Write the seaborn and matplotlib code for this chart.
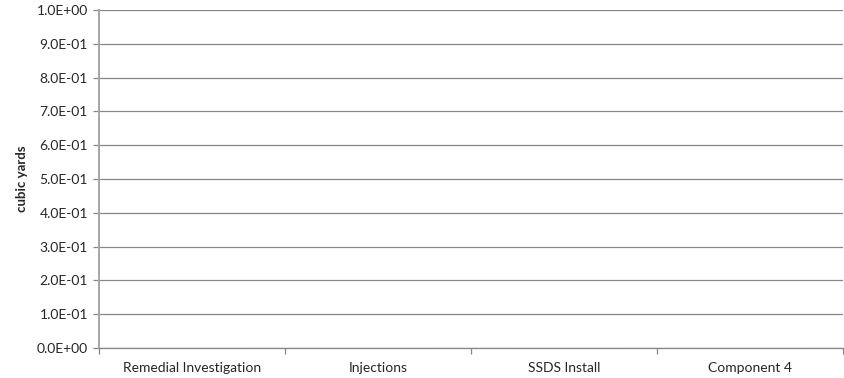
import matplotlib
matplotlib.use("Agg")
import matplotlib.pyplot as plt
import matplotlib.ticker as mticker
import seaborn as sns
import pandas as pd

categories = ["Remedial Investigation", "Injections", "SSDS Install", "Component 4"]
volumes = [0.0, 0.0, 0.0, 0.0]
y_ticks = [0.0, 0.1, 0.2, 0.3, 0.4, 0.5, 0.6, 0.7, 0.8, 0.9, 1.0]

sns.set_theme(style="white")
plt.rcParams["font.family"] = ["Lato", "DejaVu Sans"]

df = pd.DataFrame({"category": categories, "volume": volumes})

fig = plt.figure(figsize=(8.45, 3.78), dpi=100)
ax = fig.add_axes([99 / 845, 30 / 378, 744 / 845, 338 / 378])

sns.barplot(data=df, x="category", y="volume", color="#4F81BD", ax=ax, width=0.6)

ax.set_xlim(-0.5, len(categories) - 0.5)
ax.set_ylim(0, 1.0)
ax.set_yticks(y_ticks)
ax.yaxis.set_major_formatter(mticker.FuncFormatter(lambda v, _: f"{v:.1E}"))
ax.set_xticks(range(len(categories)))
ax.set_xticklabels(categories)
ax.set_xticks([i - 0.5 for i in range(len(categories) + 1)], minor=True)

grid_color = "#868686"
ax.grid(axis="y", color=grid_color, linewidth=0.9)
ax.set_axisbelow(True)

for side in ["top", "right"]:
    ax.spines[side].set_visible(False)
ax.spines["left"].set_color("#A6A6A6")
ax.spines["left"].set_linewidth(1.4)
ax.spines["bottom"].set_color(grid_color)
ax.spines["bottom"].set_linewidth(0.9)

label_color = "#262626"
ax.tick_params(axis="y", which="major", left=True, length=4, width=0.9,
               color=grid_color, labelsize=10, labelcolor=label_color, pad=4)
ax.tick_params(axis="x", which="major", bottom=False, labelsize=10,
               labelcolor=label_color, pad=4)
ax.tick_params(axis="x", which="minor", bottom=True, length=4, width=0.9,
               color=grid_color)

ax.set_xlabel("")
ax.set_ylabel("cubic yards", fontsize=9.5, fontweight="bold", color=label_color,
              labelpad=6)

fig.savefig("out.png", dpi=100)
